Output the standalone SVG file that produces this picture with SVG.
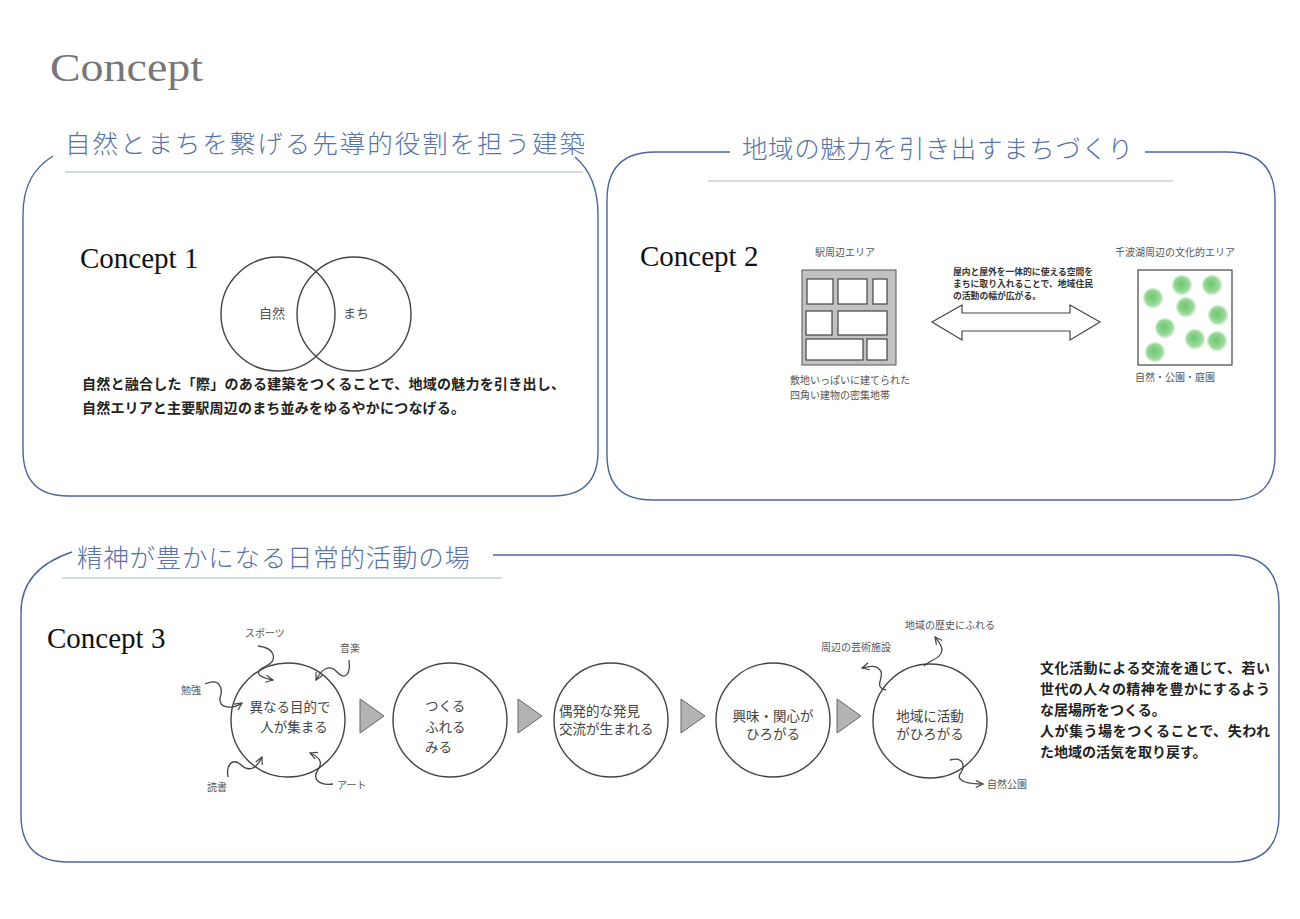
<svg xmlns="http://www.w3.org/2000/svg" width="1300" height="919" viewBox="0 0 1300 919">
<defs>
<style>
.panel{fill:none;stroke:#4a66a0;stroke-width:1.4}
.uline{stroke:#a9b7d3;stroke-width:1.2}
.head{font-family:"Noto Sans CJK JP","Noto Sans",sans-serif;font-size:25.5px;fill:#5673a8;font-weight:300}
.cname{font-family:"Liberation Serif","DejaVu Serif",serif;font-size:29px;fill:#111}
.jp{font-family:"Noto Sans CJK JP","Noto Sans",sans-serif}
.body{font-family:"Noto Sans CJK JP","Noto Sans",sans-serif;font-size:14px;fill:#222;font-weight:bold}
.small{font-family:"Noto Sans CJK JP","Noto Sans",sans-serif;font-size:10px;fill:#555}
.ctext{font-family:"Noto Sans CJK JP","Noto Sans",sans-serif;font-size:13.5px;fill:#444}
.ring{fill:#fff;stroke:#444;stroke-width:1.4}
.tri{fill:#b3b3b3;stroke:#666;stroke-width:1}
.sq{fill:none;stroke:#444;stroke-width:1.3;marker-end:url(#ah)}
.tree{fill:url(#tg);stroke:#d4eed4;stroke-width:1.5}
</style>
<marker id="ah" viewBox="0 0 10 10" refX="9" refY="5" markerWidth="9" markerHeight="9" orient="auto" markerUnits="userSpaceOnUse">
<path d="M1,1 L9,5 L1,9" fill="none" stroke="#444" stroke-width="1.3"/>
</marker>
<radialGradient id="tg" cx="0.45" cy="0.45" r="0.6">
<stop offset="0" stop-color="#6fc66f"/>
<stop offset="0.7" stop-color="#9ad99a"/>
<stop offset="1" stop-color="#cfeccf"/>
</radialGradient>
</defs>
<rect width="1300" height="919" fill="#fff"/>

<text x="50" y="81" font-family="Liberation Serif,DejaVu Serif,serif" font-size="40" fill="#777" textLength="153" lengthAdjust="spacingAndGlyphs">Concept</text>

<!-- Panel 1 -->
<g id="panel1">
<path class="panel" d="M53,156 C34,168 23,185 23,215 L23,450 Q23,496 68,496 L553,496 Q598,496 598,451 L598,215 C598,185 588,168 575,157"/>
<text class="head" x="65" y="153" textLength="520">自然とまちを繋げる先導的役割を担う建築</text>
<line class="uline" x1="65" y1="172" x2="583" y2="172"/>
</g>
<g id="concept1">
<text class="cname" x="80" y="268">Concept 1</text>
<g id="venn">
<circle cx="278" cy="314" r="57" fill="none" stroke="#444" stroke-width="1.4"/>
<circle cx="354" cy="314" r="57" fill="none" stroke="#444" stroke-width="1.4"/>
<text class="jp" x="272" y="318" font-size="13" fill="#555" text-anchor="middle">自然</text>
<text class="jp" x="356" y="318" font-size="13" fill="#555" text-anchor="middle">まち</text>
</g>
<text class="body" x="82" y="389" textLength="483">自然と融合した「際」のある建築をつくることで、地域の魅力を引き出し、</text>
<text class="body" x="82" y="413" textLength="383">自然エリアと主要駅周辺のまち並みをゆるやかにつなげる。</text>
</g>

<!-- Panel 2 -->
<g id="panel2">
<path class="panel" d="M730,152 L655,152 Q607,152 607,200 L607,455 Q607,500 652,500 L1230,500 Q1275,500 1275,455 L1275,200 Q1275,152 1228,152 L1145,152"/>
<text class="head" x="742" y="158" textLength="391">地域の魅力を引き出すまちづくり</text>
<line class="uline" x1="708" y1="181" x2="1173" y2="181"/>
</g>
<g id="concept2">
<text class="cname" x="640" y="266">Concept 2</text>
<g id="station">
<text class="small" x="815" y="256">駅周辺エリア</text>
<rect x="802" y="270" width="94" height="95" fill="#c2c2c2" stroke="#555" stroke-width="1"/>
<g fill="#fff" stroke="#444" stroke-width="1.2">
<rect x="807" y="279" width="26" height="25"/>
<rect x="838" y="279" width="29" height="25"/>
<rect x="873" y="279" width="14" height="25"/>
<rect x="806" y="311" width="26" height="24"/>
<rect x="838" y="311" width="49" height="24"/>
<rect x="806" y="339" width="57" height="21"/>
<rect x="867" y="339" width="20" height="21"/>
</g>
<text class="small" x="790" y="384">敷地いっぱいに建てられた</text>
<text class="small" x="790" y="399">四角い建物の密集地帯</text>
</g>
<g id="lake">
<text class="small" x="1175" y="256" text-anchor="middle">千波湖周辺の文化的エリア</text>
<rect x="1138" y="270" width="94" height="95" fill="#fff" stroke="#444" stroke-width="1.2"/>
<circle class="tree" cx="1182" cy="285" r="9.5"/>
<circle class="tree" cx="1212" cy="285" r="9.5"/>
<circle class="tree" cx="1153" cy="298" r="9.5"/>
<circle class="tree" cx="1186" cy="307" r="9.5"/>
<circle class="tree" cx="1218" cy="315" r="9.5"/>
<circle class="tree" cx="1165" cy="328" r="9.5"/>
<circle class="tree" cx="1195" cy="339" r="9.5"/>
<circle class="tree" cx="1217" cy="341" r="9.5"/>
<circle class="tree" cx="1155" cy="352" r="9.5"/>
<text class="small" x="1175" y="381" text-anchor="middle">自然・公園・庭園</text>
</g>
<g id="arrowtext" class="jp" font-size="8.8" font-weight="bold" fill="#333">
<text x="953" y="275" textLength="140">屋内と屋外を一体的に使える空間を</text>
<text x="953" y="287" textLength="140">まちに取り入れることで、地域住民</text>
<text x="953" y="299">の活動の幅が広がる。</text>
</g>
</g>

<!-- Panel 3 -->
<g id="panel3">
<path class="panel" d="M72,552 C42,562 21,580 21,612 L21,815 Q21,862 68,862 L1232,862 Q1279,862 1279,815 L1279,605 Q1279,555 1230,555 L493,555"/>
<text class="head" x="77" y="567" textLength="393">精神が豊かになる日常的活動の場</text>
<line class="uline" x1="62" y1="578" x2="502" y2="578"/>
</g>
<g id="concept3">
<text class="cname" x="47" y="648">Concept 3</text>
</g>
<g id="node1">
<circle class="ring" cx="288" cy="720" r="57"/>
<text class="ctext" x="290" y="712" text-anchor="middle">異なる目的で</text>
<text class="ctext" x="294" y="732" text-anchor="middle">人が集まる</text>
<text class="small" x="245" y="637">スポーツ</text>
<text class="small" x="340" y="652">音楽</text>
<text class="small" x="181" y="694">勉強</text>
<text class="small" x="207" y="791">読書</text>
<text class="small" x="337" y="789">アート</text>
</g>
<g id="node2">
<circle class="ring" cx="450" cy="720" r="57"/>
<text class="ctext" x="425" y="711">つくる</text>
<text class="ctext" x="425" y="732">ふれる</text>
<text class="ctext" x="425" y="752">みる</text>
</g>
<g id="node3">
<circle class="ring" cx="611" cy="720" r="57"/>
<text class="ctext" x="559" y="716">偶発的な発見</text>
<text class="ctext" x="559" y="734">交流が生まれる</text>
</g>
<g id="node4">
<circle class="ring" cx="773" cy="720" r="57"/>
<text class="ctext" x="773" y="721" text-anchor="middle">興味・関心が</text>
<text class="ctext" x="773" y="739" text-anchor="middle">ひろがる</text>
</g>
<g id="node5">
<circle class="ring" cx="930" cy="721" r="57"/>
<text class="ctext" x="930" y="721" text-anchor="middle">地域に活動</text>
<text class="ctext" x="930" y="739" text-anchor="middle">がひろがる</text>
<text class="small" x="856" y="651" text-anchor="middle">周辺の芸術施設</text>
<text class="small" x="950" y="629" text-anchor="middle">地域の歴史にふれる</text>
<text class="small" x="987" y="788">自然公園</text>
</g>
<g id="summary" class="body">
<text x="1040" y="673" textLength="230">文化活動による交流を通じて、若い</text>
<text x="1040" y="694" textLength="230">世代の人々の精神を豊かにするよう</text>
<text x="1040" y="715">な居場所をつくる。</text>
<text x="1040" y="736" textLength="230">人が集う場をつくることで、失われ</text>
<text x="1040" y="757">た地域の活気を取り戻す。</text>
</g>

<g id="connectors">
<path d="M962,305 L932,322 L962,340 L962,331 L1070,331 L1070,340 L1100,322 L1070,305 L1070,313 L962,313 Z" fill="#fff" stroke="#444" stroke-width="1.2"/>
<polygon class="tri" points="360,699 384,716 360,733"/>
<polygon class="tri" points="518,699 542,716 518,733"/>
<polygon class="tri" points="681,699 705,716 681,733"/>
<polygon class="tri" points="837,699 861,716 837,733"/>
<path class="sq" d="M258,646 C276,648 278,661 266,666 C254,671 256,677 273,680"/>
<path class="sq" d="M349,660 C351,674 345,681 337,672 C330,664 322,668 316,680"/>
<path class="sq" d="M205,684 C221,677 223,690 220,698 C218,708 232,710 242,703"/>
<path class="sq" d="M228,777 C226,765 232,758 240,764 C248,772 256,770 262,757"/>
<path class="sq" d="M333,784 C318,786 312,778 318,770 C322,764 322,758 310,753"/>
<path class="sq" d="M886,690 C872,687 886,676 880,670 C876,665 870,666 862,668"/>
<path class="sq" d="M924,666 C930,660 942,658 942,650 C942,645 938,641 935,637"/>
<path class="sq" d="M950,760 C965,756 965,768 960,774 C956,782 970,784 983,784"/>
</g>
</svg>
